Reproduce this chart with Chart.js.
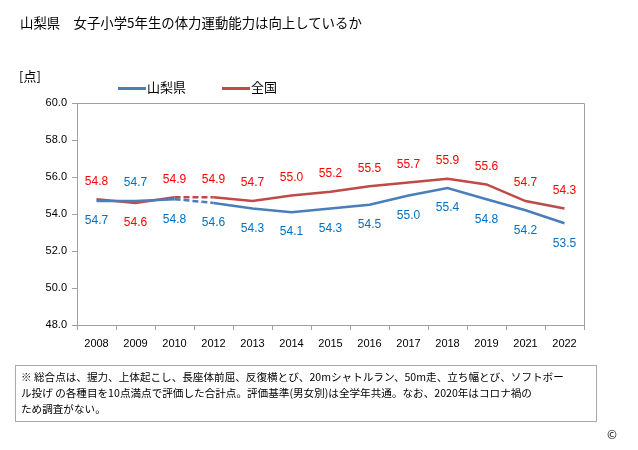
<!DOCTYPE html>
<html>
<head>
<meta charset="utf-8">
<script src="https://cdn.jsdelivr.net/npm/chart.js@4"></script>
<style>
  body { margin: 0; background: #fff; font-family: "Noto Sans CJK JP", "Liberation Sans", sans-serif; }
  #wrap { position: relative; width: 638px; height: 450px; }
  #chart { position: absolute; left: 0; top: 0; }
  .txt { position: absolute; color: #000; white-space: nowrap; }
  #title { left: 20px; top: 12px; font-size: 13.4px; }
  #unit { left: 19px; top: 66px; font-size: 13px; }
  .leg { position: absolute; top: 77px; font-size: 13px; }
  .leg span.ln { display: inline-block; width: 28px; height: 3px; vertical-align: middle; margin-right: 1px; }
  #note { position: absolute; left: 15px; top: 365px; width: 570px; height: 49px; border: 1px solid #aaa;
          padding: 3px 5px; font-size: 10.6px; line-height: 16px; white-space: nowrap; }
  #copy { left: 607px; top: 425px; font-size: 12px; }
</style>
</head>
<body>
<div id="wrap">
  <canvas id="chart" width="638" height="450"></canvas>
  <div class="txt" id="title">山梨県　女子小学5年生の体力運動能力は向上しているか</div>
  <div class="txt" id="unit">[点]</div>
  <div class="leg" style="left:118px"><span class="ln" style="background:#4a7ebb"></span>山梨県</div>
  <div class="leg" style="left:222px"><span class="ln" style="background:#be4b48"></span>全国</div>
  <div id="note">※ 総合点は、握力、上体起こし、長座体前屈、反復横とび、20mシャトルラン、50m走、立ち幅とび、ソフトボー<br>ル投げ の各種目を10点満点で評価した合計点。評価基準(男女別)は全学年共通。なお、2020年はコロナ禍の<br>ため調査がない。</div>
  <div class="txt" id="copy">©</div>
</div>
<script>
// ===================
// Data
// ===================
const years = ['2008','2009','2010','2012','2013','2014','2015','2016','2017','2018','2019','2021','2022'];
const yamanashi = [54.7, 54.7, 54.8, 54.6, 54.3, 54.1, 54.3, 54.5, 55.0, 55.4, 54.8, 54.2, 53.5];
const national = [54.8, 54.6, 54.9, 54.9, 54.7, 55.0, 55.2, 55.5, 55.7, 55.9, 55.6, 54.7, 54.3];
const yMin = 48, yMax = 60, yStep = 2;

// dashed segment where 2011 is missing
const gapIndex = 2;

// plot border (top & right) + value labels
const extras = {
  id: 'extras',
  afterDatasetsDraw(chart) {
    const ctx = chart.ctx;
    const a = chart.chartArea;
    ctx.save();
    ctx.strokeStyle = '#a0a0a0';
    ctx.lineWidth = 1;
    ctx.beginPath();
    ctx.moveTo(a.left, a.top + 0.5);
    ctx.lineTo(a.right + 0.5, a.top + 0.5);
    ctx.lineTo(a.right + 0.5, a.bottom);
    ctx.stroke();

    ctx.font = '12px "Liberation Sans", Arial, sans-serif';
    ctx.textAlign = 'center';
    ctx.textBaseline = 'middle';
    const colors = ['#0070c0', '#ff0000'];
    const series = [yamanashi, national];
    series.forEach((vals, di) => {
      const meta = chart.getDatasetMeta(di);
      vals.forEach((v, i) => {
        const other = series[1 - di][i];
        const pt = meta.data[i];
        const above = v > other || (v === other && di === 1);
        const y = above ? pt.y - 18 : pt.y + 20;
        ctx.fillStyle = colors[di];
        ctx.fillText(v.toFixed(1), pt.x, y);
      });
    });
    ctx.restore();
  }
};

const dashSeg = {
  borderDash: c => c.p0DataIndex === gapIndex ? [6, 3] : undefined
};

var ctx = document.getElementById('chart').getContext('2d');
var chart = new Chart(ctx, {
  type: 'line',
  data: {
    labels: years,
    datasets: [{
      label: '山梨県',
      data: yamanashi,
      borderColor: '#4a7ebb',
      borderWidth: 2.5,
      pointRadius: 0,
      tension: 0,
      segment: dashSeg
    }, {
      label: '全国',
      data: national,
      borderColor: '#be4b48',
      borderWidth: 2.5,
      pointRadius: 0,
      tension: 0,
      segment: dashSeg
    }]
  },
  options: {
    responsive: false,
    animation: false,
    layout: { padding: { left: 0, right: 54, top: 103, bottom: 0 } },
    plugins: {
      legend: { display: false },
      tooltip: { enabled: false }
    },
    scales: {
      x: {
        offset: true,
        grid: { offset: true, drawOnChartArea: false, tickLength: 5, color: '#a0a0a0' },
        border: { color: '#a0a0a0' },
        ticks: { color: '#000', font: { size: 11, family: '"Liberation Sans", Arial' }, padding: 7, maxRotation: 0 },
        afterFit(s) { s.height = 125; }
      },
      y: {
        min: yMin,
        max: yMax,
        grid: { drawOnChartArea: false, tickLength: 5, color: '#a0a0a0' },
        border: { color: '#a0a0a0' },
        ticks: {
          stepSize: yStep,
          color: '#000',
          padding: 5,
          font: { size: 11, family: '"Liberation Sans", Arial' },
          callback: v => v.toFixed(1)
        },
        afterFit(s) { s.width = 77; }
      }
    }
  },
  plugins: [extras]
});
</script>
</body>
</html>
